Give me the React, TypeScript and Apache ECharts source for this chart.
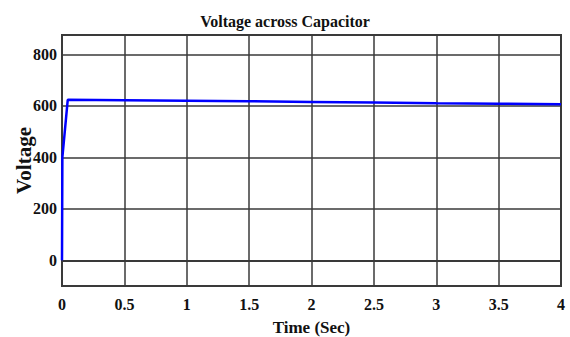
import React, { useEffect, useRef } from "react";
import * as echarts from "echarts";

const timeSec = [0, 0.003, 0.046, 0.5, 1, 1.5, 2, 2.5, 3, 3.5, 4];
const voltage = [0, 400, 623, 622, 620, 617.5, 615, 612.5, 610, 608, 606];
const yTicks = [0, 200, 400, 600, 800];
const xTicks = [0, 0.5, 1, 1.5, 2, 2.5, 3, 3.5, 4];

const FONT = "Liberation Serif, Times New Roman, serif";
const GRID_COLOR = "#3a3a3a";

export default function App() {
  const ref = useRef<HTMLDivElement>(null);
  useEffect(() => {
    if (!ref.current) return;
    const chart = echarts.init(ref.current, undefined, { renderer: "svg" });
    chart.setOption({
      animation: false,
      backgroundColor: "#ffffff",
      title: {
        text: "Voltage across Capacitor",
        left: "center",
        top: 8,
        textStyle: { fontFamily: FONT, fontWeight: "bold", fontSize: 16, color: "#111" },
      },
      grid: {
        left: 62,
        right: 9,
        top: 35,
        bottom: 51,
        outerBoundsMode: "none",
        containLabel: false,
        show: true,
        borderColor: GRID_COLOR,
        borderWidth: 2,
        backgroundColor: "transparent",
      },
      xAxis: {
        type: "value",
        min: xTicks[0],
        max: xTicks[xTicks.length - 1],
        interval: 0.5,
        name: "Time (Sec)",
        nameLocation: "middle",
        nameGap: 33,
        nameMoveOverlap: false,
        nameTextStyle: { fontFamily: FONT, fontWeight: "bold", fontSize: 17, color: "#111" },
        axisLine: { show: true, lineStyle: { color: GRID_COLOR, width: 2 } },
        axisTick: { show: false },
        axisLabel: {
          margin: 10,
          fontFamily: FONT,
          fontWeight: "bold",
          fontSize: 16,
          color: "#111",
          formatter: (v: number) => String(v),
        },
        splitLine: { show: true, lineStyle: { color: GRID_COLOR, width: 1.5 } },
      },
      yAxis: {
        type: "value",
        min: -100,
        max: 875,
        interval: 100,
        name: "Voltage",
        nameLocation: "middle",
        nameGap: 28,
        nameMoveOverlap: false,
        nameTextStyle: { fontFamily: FONT, fontWeight: "bold", fontSize: 21, color: "#111" },
        axisLine: { show: true, lineStyle: { color: GRID_COLOR, width: 2 } },
        axisTick: { show: false },
        axisLabel: {
          margin: 5,
          fontFamily: FONT,
          fontWeight: "bold",
          fontSize: 16,
          color: "#111",
          showMaxLabel: false,
          showMinLabel: false,
          formatter: (v: number) => (yTicks.indexOf(v) >= 0 ? String(v) : ""),
        },
        splitLine: { show: false },
      },
      series: [
        {
          type: "line",
          z: 1,
          data: [],
          silent: true,
          markLine: {
            silent: true,
            symbol: "none",
            label: { show: false },
            lineStyle: { color: GRID_COLOR, width: 1.5, type: "solid" },
            data: yTicks.map((v) => ({ yAxis: v })),
          },
        },
        {
          type: "line",
          z: 5,
          data: timeSec.map((t, i) => [t, voltage[i]]),
          showSymbol: false,
          symbol: "none",
          lineStyle: { color: "#0000ff", width: 2.5 },
          itemStyle: { color: "#0000ff" },
        },
      ],
    });
    return () => chart.dispose();
  }, []);
  return (
    <div
      ref={ref}
      style={{ position: "absolute", left: 0, top: 0, width: 570, height: 337 }}
    />
  );
}
